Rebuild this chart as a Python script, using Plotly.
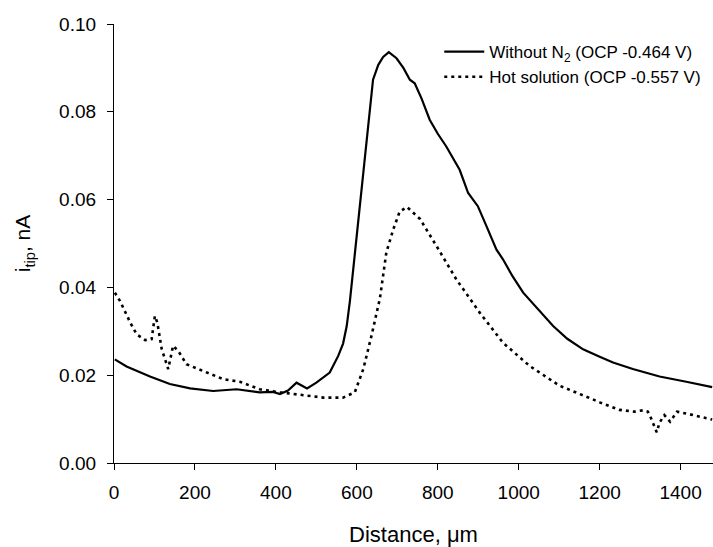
import plotly.graph_objects as go

# Without N2 (OCP -0.464 V)
dist_without = [2, 31, 89, 138, 188, 245, 303, 360, 393, 410, 430, 451, 477, 500, 533, 554, 566, 575, 583,
                591, 599, 616, 628, 640, 653, 665, 679, 698, 715, 731, 743, 760, 780, 800, 821, 854, 875,
                899, 920, 945, 961, 985, 1011, 1050, 1085, 1120, 1159, 1200, 1233, 1282, 1348, 1414, 1478]
itip_without = [0.0236, 0.0220, 0.0197, 0.0180, 0.0170, 0.0164, 0.0168, 0.0161, 0.0162, 0.0157, 0.0165,
                0.0183, 0.0170, 0.0183, 0.0206, 0.0244, 0.0272, 0.0312, 0.0370,
                0.0441, 0.0509, 0.0661, 0.0774, 0.0873, 0.0907, 0.0925, 0.0936, 0.0922, 0.0900, 0.0873,
                0.0865, 0.0830, 0.0782, 0.0750, 0.0721, 0.0668, 0.0615,
                0.0585, 0.0540, 0.0486, 0.0464, 0.0425, 0.0388, 0.0347, 0.0312, 0.0283, 0.0259, 0.0242,
                0.0229, 0.0214, 0.0197, 0.0185, 0.0173]

# Hot solution (OCP -0.557 V)
dist_hot = [2, 15, 40, 56, 77, 93, 101, 107, 118, 134, 146, 159, 179, 220, 270, 311, 360, 410, 459, 517,
            566, 595, 616, 636, 657, 673, 690, 706, 724, 756, 797, 846, 904, 961, 1027, 1101, 1183, 1200,
            1249, 1286, 1307, 1319, 1327, 1336, 1341, 1348, 1360, 1374, 1391, 1422, 1478]
itip_hot = [0.0388, 0.0369, 0.0320, 0.0293, 0.0280, 0.0282, 0.0335, 0.0320, 0.0259, 0.0214, 0.0267,
            0.0255, 0.0225, 0.0210, 0.0191, 0.0185, 0.0168, 0.0161, 0.0155, 0.0149,
            0.0149, 0.0161, 0.0214, 0.0289, 0.0375, 0.0480, 0.0532, 0.0573, 0.0583, 0.0556, 0.0494,
            0.0418, 0.0342, 0.0274, 0.0221, 0.0176, 0.0145, 0.0138,
            0.0121, 0.0117, 0.0120, 0.0117, 0.0102, 0.0083, 0.0070, 0.0092, 0.0109, 0.0094, 0.0117,
            0.0111, 0.0099]

x_ticks = [0, 200, 400, 600, 800, 1000, 1200, 1400]
y_ticks = [0.00, 0.02, 0.04, 0.06, 0.08, 0.10]

FONT = "Liberation Sans, Arial, sans-serif"

fig = go.Figure()
fig.add_trace(go.Scatter(
    x=dist_without, y=itip_without, mode="lines",
    name="Without N<sub>2</sub> (OCP -0.464 V)",
    line=dict(color="black", width=2.2),
))
fig.add_trace(go.Scatter(
    x=dist_hot, y=itip_hot, mode="lines",
    name="Hot solution (OCP -0.557 V)",
    line=dict(color="black", width=2.6, dash="3px,4px"),
))

fig.update_layout(
    width=713, height=547,
    margin=dict(l=114, r=0, t=24, b=84),
    paper_bgcolor="white", plot_bgcolor="white",
    font=dict(family=FONT, color="black"),
    showlegend=True,
    legend=dict(
        x=0.543, y=0.977, xanchor="left", yanchor="top",
        font=dict(size=17, family=FONT),
        bgcolor="rgba(0,0,0,0)", borderwidth=0,
        itemwidth=40, tracegroupgap=0,
    ),
    xaxis=dict(
        range=[0, 1480], tickmode="array", tickvals=x_ticks,
        ticktext=[str(v) for v in x_ticks],
        showline=True, linecolor="black", linewidth=1.3,
        ticks="outside", ticklen=6, tickcolor="black", tickwidth=1.3,
        showgrid=False, zeroline=False,
        tickfont=dict(size=19, family=FONT),
        ticklabelstandoff=6,
        title=dict(text="Distance, μm", font=dict(size=22, family=FONT), standoff=30),
    ),
    yaxis=dict(
        range=[0, 0.10], tickmode="array", tickvals=y_ticks,
        ticktext=[f"{v:.2f}" for v in y_ticks],
        showline=True, linecolor="black", linewidth=1.3,
        ticks="outside", ticklen=6, tickcolor="black", tickwidth=1.3,
        showgrid=False, zeroline=False,
        tickfont=dict(size=19, family=FONT),
        ticklabelstandoff=7,
        title=dict(text="i<sub>tip</sub>, nA", font=dict(size=21, family=FONT), standoff=22),
    ),
)

fig.write_html(
    "out.html",
    config={"displayModeBar": False},
    post_script="document.body.style.margin='0';document.body.style.padding='0';",
)
